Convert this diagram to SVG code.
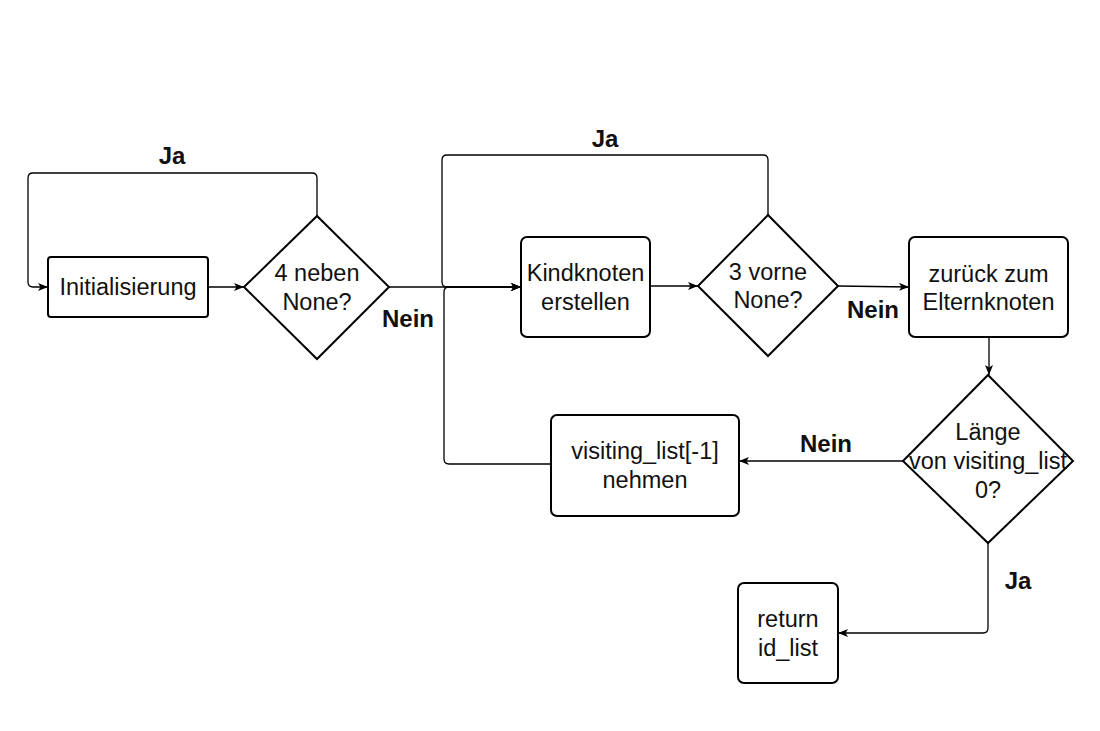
<svg xmlns="http://www.w3.org/2000/svg" width="1100" height="731" viewBox="0 0 1100 731">
<style>
.box{fill:#fff;stroke:#000;stroke-width:2}
.dia{fill:#fff;stroke:#000;stroke-width:2}
.t{font-family:"Liberation Sans",Arial,sans-serif;font-size:23.5px;fill:#111;text-anchor:middle;dominant-baseline:central}
.lb{font-family:"Liberation Sans",Arial,sans-serif;font-size:24px;font-weight:bold;fill:#111;text-anchor:middle;dominant-baseline:central}
.e{fill:none;stroke:#000;stroke-width:1.3;marker-end:url(#arr)}
</style>
<defs>
<marker id="arr" markerUnits="userSpaceOnUse" markerWidth="10" markerHeight="10" viewBox="0 0 10 10" refX="10" refY="5" orient="auto">
<path d="M0,1 L10,5 L0,9 L2.5,5 z" fill="#000"/>
</marker>
</defs>
<rect width="1100" height="731" fill="#fff"/>
<g id="connectors">
<path class="e" d="M208,287 H244"/>
<path class="e" d="M317,216 V178 Q317,173 312,173 H33 Q28,173 28,178 V282 Q28,287 33,287 H48"/>
<path class="e" d="M389,287 H521"/>
<path class="e" d="M768,215 V160 Q768,155 763,155 H447 Q442,155 442,160 V282 Q442,287 447,287 H521"/>
<path class="e" d="M551,464 H449 Q444,464 444,459 V292 Q444,287 449,287 H521"/>
<path class="e" d="M650,286 H698"/>
<path class="e" d="M838,286 L909,287"/>
<path class="e" d="M989,337 V375"/>
<path class="e" d="M903,461 H739"/>
<path class="e" d="M988,543 V628 Q988,633 983,633 H838"/>
<text class="lb" x="172" y="155">Ja</text>
<text class="lb" x="605" y="138">Ja</text>
<text class="lb" x="408" y="318">Nein</text>
<text class="lb" x="873" y="309">Nein</text>
<text class="lb" x="826" y="443">Nein</text>
<text class="lb" x="1018" y="580">Ja</text>
</g>
<g id="init">
<rect class="box" x="48" y="257" width="160" height="60" rx="3"/>
<text class="t" x="128" y="287">Initialisierung</text>
</g>
<g id="dec1">
<polygon class="dia" points="244,287 317,216 389,287 317,359"/>
<text class="t" x="317" y="273">4 neben</text>
<text class="t" x="317" y="302">None?</text>
</g>
<g id="kind">
<rect class="box" x="521" y="237" width="129" height="100" rx="6"/>
<text class="t" x="585.5" y="273">Kindknoten</text>
<text class="t" x="585.5" y="302">erstellen</text>
</g>
<g id="dec2">
<polygon class="dia" points="698,286 768,215 838,286 768,356"/>
<text class="t" x="768" y="272">3 vorne</text>
<text class="t" x="768" y="300">None?</text>
</g>
<g id="zurueck">
<rect class="box" x="909" y="237" width="159" height="100" rx="6"/>
<text class="t" x="988.5" y="274">zurück zum</text>
<text class="t" x="988.5" y="302">Elternknoten</text>
</g>
<g id="dec3">
<polygon class="dia" points="903,461 988,375 1073,461 988,543"/>
<text class="t" x="988" y="432">Länge</text>
<text class="t" x="988" y="461">von visiting_list</text>
<text class="t" x="988" y="490">0?</text>
</g>
<g id="visiting">
<rect class="box" x="551" y="415" width="188" height="101" rx="6"/>
<text class="t" x="645" y="451">visiting_list[-1]</text>
<text class="t" x="645" y="480">nehmen</text>
</g>
<g id="ret">
<rect class="box" x="738" y="583" width="100" height="100" rx="6"/>
<text class="t" x="788" y="619">return</text>
<text class="t" x="788" y="648">id_list</text>
</g>
</svg>
